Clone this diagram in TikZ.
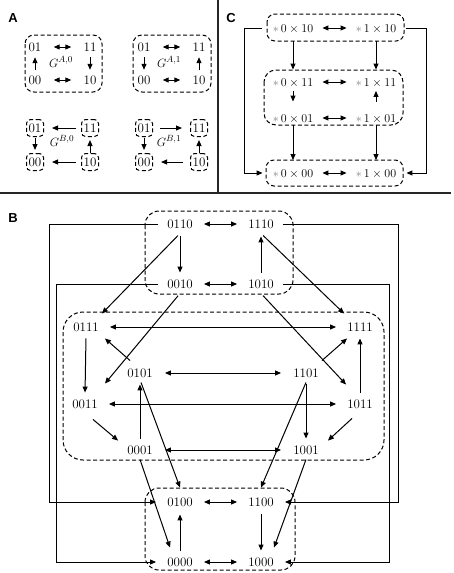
\documentclass[tikz,border=0pt]{standalone}
\usepackage{fontspec}
\newfontfamily\lblfont{Liberation Sans}
\usetikzlibrary{arrows.meta}
\newcommand{\cst}[2]{\textcolor{gray}{$\ast$}\,$#1\times#2$}
\tikzset{
  every node/.style={font=\fontsize{13}{15}\selectfont, text height=8.5pt, text depth=0pt},
  tipx/.tip={Triangle[length=6pt,width=5pt]},
  ar/.style={-tipx, line width=1pt},
  dar/.style={tipx-tipx, line width=1pt},
  grp/.style={draw=black, dash pattern=on 4pt off 2.5pt, line width=1pt},
  sep/.style={line width=1.4pt, draw=black!85},
  lbl/.style={font=\lblfont\bfseries\fontsize{13}{15}\selectfont, inner sep=0pt},
  bnode/.style={inner xsep=9pt, inner ysep=5pt},
  anode/.style={minimum width=17pt, minimum height=17pt, inner sep=0pt},
  snode/.style={anode, grp, rounded corners=4pt},
  cnode/.style={inner xsep=3pt, inner ysep=3pt},
}
\begin{document}
\begin{tikzpicture}[x=1pt,y=-1pt]
\useasboundingbox (0,0) rectangle (454,573);
% separators
\draw[sep] (0,193) -- (451,193);
\draw[sep] (218,0) -- (218,193);
% labels
\node[lbl] (labA) at (13,18) {A};
\node[lbl] (labB) at (13,218) {B};
\node[lbl] (labC) at (231,18) {C};

% ================= Panel A =================
\draw[grp, rounded corners=9pt] (25,35) rectangle (102,92);
\draw[grp, rounded corners=9pt] (133,35) rectangle (211,92);
\node[anode] (a0x01) at (35,47) {01};
\node[anode] (a0x11) at (90,47) {11};
\node[anode] (a0x00) at (35,80) {00};
\node[anode] (a0x10) at (90,80) {10};
\node (gA0) at (61,63) {$G^{A,0}$};
\draw[dar, shorten <=10pt, shorten >=10pt] (a0x01) -- (a0x11);
\draw[dar, shorten <=10pt, shorten >=10pt] (a0x00) -- (a0x10);
\draw[ar, shorten <=1.5pt, shorten >=1.5pt] (a0x00) -- (a0x01);
\draw[ar, shorten <=1.5pt, shorten >=1.5pt] (a0x11) -- (a0x10);

\node[anode] (a1x01) at (144,47) {01};
\node[anode] (a1x11) at (199,47) {11};
\node[anode] (a1x00) at (144,80) {00};
\node[anode] (a1x10) at (199,80) {10};
\node (gA1) at (169,63) {$G^{A,1}$};
\draw[dar, shorten <=10pt, shorten >=10pt] (a1x01) -- (a1x11);
\draw[dar, shorten <=10pt, shorten >=10pt] (a1x00) -- (a1x10);
\draw[ar, shorten <=1.5pt, shorten >=1.5pt] (a1x01) -- (a1x00);
\draw[ar, shorten <=1.5pt, shorten >=1.5pt] (a1x10) -- (a1x11);

\node[snode] (b0x01) at (35,128) {01};
\node[snode] (b0x11) at (90,128) {11};
\node[snode] (b0x00) at (35,162) {00};
\node[snode] (b0x10) at (90,162) {10};
\node (gB0) at (62,142) {$G^{B,0}$};
\draw[ar, shorten <=5pt, shorten >=8pt] (b0x11) -- (b0x01);
\draw[ar, shorten <=5pt, shorten >=8pt] (b0x10) -- (b0x00);
\draw[ar, shorten <=0.5pt, shorten >=3pt] (b0x01) -- (b0x00);
\draw[ar, shorten <=0.5pt, shorten >=3pt] (b0x10) -- (b0x11);

\node[snode] (b1x01) at (144,128) {01};
\node[snode] (b1x11) at (199,128) {11};
\node[snode] (b1x00) at (144,162) {00};
\node[snode] (b1x10) at (199,162) {10};
\node (gB1) at (169,142) {$G^{B,1}$};
\draw[ar, shorten <=7pt, shorten >=8pt] (b1x01) -- (b1x11);
\draw[ar, shorten <=7pt, shorten >=8pt] (b1x10) -- (b1x00);
\draw[ar, shorten <=0.5pt, shorten >=3pt] (b1x01) -- (b1x00);
\draw[ar, shorten <=0.5pt, shorten >=3pt] (b1x10) -- (b1x11);

% ================= Panel C =================
\draw[grp, rounded corners=8pt] (267,14) rectangle (404,41);
\draw[grp, rounded corners=12pt] (264,70) rectangle (403,125);
\draw[grp, rounded corners=8pt] (266,160) rectangle (403,186);
\node[cnode] (c010) at (293,28) {\cst{0}{10}};
\node[cnode] (c110) at (376,28) {\cst{1}{10}};
\node[cnode] (c011) at (293,82) {\cst{0}{11}};
\node[cnode] (c111) at (376,82) {\cst{1}{11}};
\node[cnode] (c001) at (293,118) {\cst{0}{01}};
\node[cnode] (c101) at (376,118) {\cst{1}{01}};
\node[cnode] (c000) at (293,173) {\cst{0}{00}};
\node[cnode] (c100) at (376,173) {\cst{1}{00}};
\draw[dar, shorten <=6pt, shorten >=6pt] (c010) -- (c110);
\draw[dar, shorten <=6pt, shorten >=6pt] (c011) -- (c111);
\draw[dar, shorten <=6pt, shorten >=6pt] (c001) -- (c101);
\draw[dar, shorten <=6pt, shorten >=6pt] (c000) -- (c100);
\draw[ar, shorten <=6pt, shorten >=5pt] (c010.south) -- (c011.north);
\draw[ar, shorten <=6pt, shorten >=5pt] (c110.south) -- (c111.north);
\draw[ar, shorten <=1.5pt, shorten >=9pt] (c011.south) -- (c001.north);
\draw[ar, shorten <=9pt, shorten >=1.5pt] (c101.north) -- (c111.south);
\draw[ar, shorten <=0pt, shorten >=5.5pt] (c001.south) -- (c000.north);
\draw[ar, shorten <=0pt, shorten >=5.5pt] (c101.south) -- (c100.north);
\draw[ar, shorten <=8pt, shorten >=7pt] (c010.west) -- ++(-25.5,0) |- (c000.west);
\draw[ar, shorten <=7pt, shorten >=7pt] (c110.east) -- ++(27,0) |- (c100.east);

% ================= Panel B =================
\draw[grp, rounded corners=14pt] (145,211) rectangle (293,294);
\draw[grp, rounded corners=20pt] (63,312) rectangle (384,460);
\draw[grp, rounded corners=14pt] (145,488) rectangle (295,570);
\node[bnode] (n0110) at (180,224) {0110};
\node[bnode] (n1110) at (261,224) {1110};
\node[bnode] (n0010) at (180,284) {0010};
\node[bnode] (n1010) at (261,284) {1010};
\node[bnode] (n0111) at (86,327) {0111};
\node[bnode] (n1111) at (360,327) {1111};
\node[bnode] (n0101) at (140,373) {0101};
\node[bnode] (n1101) at (306,373) {1101};
\node[bnode] (n0011) at (85,404) {0011};
\node[bnode] (n1011) at (360,404) {1011};
\node[bnode] (n0001) at (140,450) {0001};
\node[bnode] (n1001) at (306,450) {1001};
\node[bnode] (n0100) at (180,502) {0100};
\node[bnode] (n1100) at (261,502) {1100};
\node[bnode] (n0000) at (180,562) {0000};
\node[bnode] (n1000) at (261,562) {1000};

\draw[dar, shorten <=2pt, shorten >=2pt] (n0110) -- (n1110);
\draw[dar, shorten <=2pt, shorten >=2pt] (n0010) -- (n1010);
\draw[dar, shorten <=2pt, shorten >=2pt] (n0111) -- (n1111);
\draw[dar, shorten <=3pt, shorten >=3pt] (n0101) -- (n1101);
\draw[dar, shorten <=2pt, shorten >=2pt] (n0011) -- (n1011);
\draw[dar, shorten <=3pt, shorten >=3pt] (n0001) -- (n1001);
\draw[dar, shorten <=2pt, shorten >=2pt] (n0100) -- (n1100);
\draw[dar, shorten <=2pt, shorten >=2pt] (n0000) -- (n1000);

\draw[ar, shorten <=3pt, shorten >=2pt] (n0110.south) -- (n0010.north);
\draw[ar, shorten <=2pt, shorten >=3pt] (n1010.north) -- (n1110.south);
\draw[ar, shorten <=3pt] (n0110.south) -- ([xshift=-6pt,yshift=4pt]n0111.north east);
\draw[ar, shorten <=3pt] (n1110.south) -- ([xshift=6pt,yshift=4pt]n1111.north west);
\draw[ar, shorten <=3pt] (n0010.south) -- ([xshift=-2pt,yshift=11pt]n0011.north east);
\draw[ar, shorten <=3pt] (n1010.south) -- ([xshift=8pt,yshift=10pt]n1011.north west);
\draw[ar, shorten <=2pt, shorten >=2pt] (n0111.south) -- (n0011.north);
\draw[ar, shorten <=2pt, shorten >=2pt] (n1011.north) -- (n1111.south);
\draw[ar] ([xshift=12pt,yshift=3pt]n0101.north west) -- ([xshift=-3pt,yshift=-2pt]n0111.south east);
\draw[ar] ([xshift=-6pt,yshift=3pt]n1101.north east) -- ([xshift=9pt,yshift=-2pt]n1111.south west);
\draw[ar] ([xshift=8pt,yshift=-6pt]n0011.south) -- (n0001.north west);
\draw[ar] ([xshift=-8pt,yshift=-5pt]n1011.south) -- (n1001.north east);
\draw[ar, shorten <=2pt, shorten >=2pt] (n0001.north) -- (n0101.south);
\draw[ar, shorten <=2pt, shorten >=2pt] (n1101.south) -- (n1001.north);
\draw[ar] ([xshift=1pt]n0101.south) -- ([yshift=5pt]n0100.north);
\draw[ar] (n0001.south) -- ([xshift=-10pt,yshift=5pt]n0000.north);
\draw[ar] (n1101.south) -- ([yshift=5pt]n1100.north);
\draw[ar] (n1001.south) -- ([xshift=13pt,yshift=5pt]n1000.north);
\draw[ar, shorten <=2pt, shorten >=3pt] (n0000.north) -- (n0100.south);
\draw[ar, shorten <=3pt, shorten >=2pt] (n1100.south) -- (n1000.north);

\draw[ar, shorten >=2pt] (n0110.west) -- ++(-109,0) |- (n0100.west);
\draw[ar, shorten >=2pt] (n0010.west) -- ++(-102,0) |- (n0000.west);
\draw[ar, shorten >=2pt] (n1110.east) -- ++(116,0) |- (n1100.east);
\draw[ar, shorten >=2pt] (n1010.east) -- ++(107,0) |- (n1000.east);
\end{tikzpicture}
\end{document}
